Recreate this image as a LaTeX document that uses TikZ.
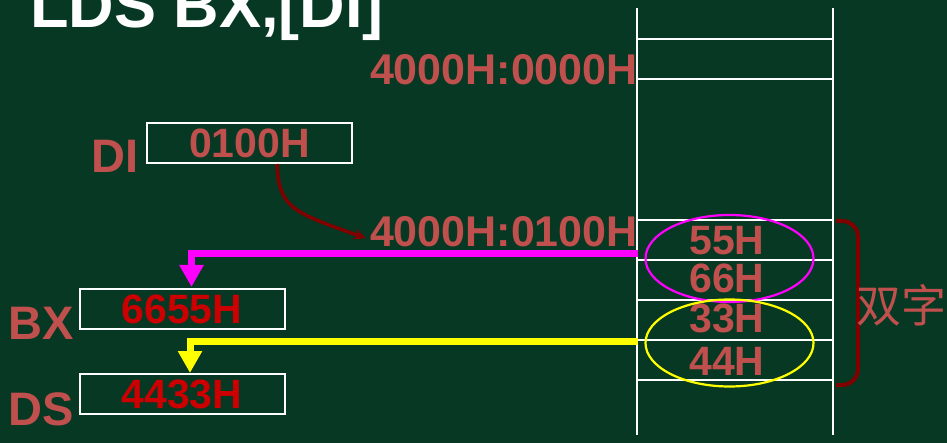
\documentclass[tikz,border=0pt]{standalone}
\usepackage{fontspec}
\setmainfont{Liberation Sans}
\newfontfamily\cjkfont{Noto Sans CJK SC}
\usetikzlibrary{shapes.geometric,arrows.meta,calc}
\definecolor{bgc}{RGB}{6,56,35}
\definecolor{lblred}{RGB}{192,80,77}
\definecolor{valred}{RGB}{204,0,0}
\definecolor{darkred}{RGB}{128,0,0}
\definecolor{magc}{RGB}{255,0,255}
\definecolor{yelc}{RGB}{255,255,0}
\begin{document}
\begin{tikzpicture}[x=1pt,y=-1pt,
  reglbl/.style={text=lblred, font=\fontsize{47}{47}\selectfont\bfseries, inner sep=0, anchor=base west},
  regbox/.style={draw=white, line width=2pt, minimum width=205pt, minimum height=40pt, inner sep=0, font=\fontsize{41}{41}\selectfont\bfseries},
  addr/.style={text=lblred, font=\fontsize{43}{43}\selectfont\bfseries, inner sep=0, anchor=base east},
  memval/.style={text=lblred, font=\fontsize{41}{41}\selectfont\bfseries, inner sep=0, anchor=base},
  memline/.style={white, line width=1.8pt},
  ring/.style={ellipse, line width=2.2pt, minimum width=168pt, minimum height=87pt, inner sep=0},
  moveline/.style={line width=7pt, -{Triangle[width=23pt,length=22pt]}}
]
\fill[bgc] (0,0) rectangle (947,443);
\useasboundingbox (0,0) rectangle (947,443);

% title (cut at the top edge, as in the original)
\node[text=white, font=\fontsize{63}{63}\selectfont\bfseries, inner sep=0, anchor=base west] (title) at (30,28) {LDS BX,[DI]};

% memory column
\draw[memline] (637,8) -- (637,435);
\draw[memline] (833,8) -- (833,435);
\foreach \yy in {39,79,220,260,300,340,380}
  \draw[memline] (637,\yy) -- (833,\yy);

\node[addr] (addr1) at (638,85) {4000H:0000H};
\node[addr] (addr2) at (638,247) {4000H:0100H};

\node[memval] (m55) at (727,255) {55H};
\node[memval] (m66) at (727,293) {66H};
\node[memval] (m33) at (727,333) {33H};
\node[memval] (m44) at (727,375) {44H};

\node[ring, draw=magc] (ringA) at (729.5,258.5) {};
\node[ring, draw=yelc] (ringB) at (729.5,343) {};

% brace
\draw[darkred, line width=4pt, rounded corners=16pt] (836,221) -| (858,303) |- (836,385);
\node[text=lblred, font=\cjkfont\fontsize{45}{45}\selectfont, inner sep=0, anchor=west] (dz) at (856,305) {双字};

% registers
\node[reglbl] (dilbl) at (91,173) {DI};
\node[regbox, text=lblred] (dibox) at (249.5,143) {0100H};
\node[reglbl] (bxlbl) at (8,340) {BX};
\node[regbox, text=valred] (bxbox) at (182,309) {6655H};
\node[reglbl] (dslbl) at (8,425) {DS};
\node[regbox, text=valred] (dsbox) at (182,394) {4433H};

% DI -> address arrow
\draw[darkred, line width=3.5pt, -{Stealth[length=12pt,width=11pt]}]
  ([xshift=27.5pt]dibox.south) .. controls (279,208) and (292,212) .. ([xshift=-4pt,yshift=-6pt]addr2.west);

% data moves
\coordinate (mstart) at (638,253.5);
\coordinate (ystart) at (638,341);
\draw[magc, moveline] (mstart) -| ([xshift=9.5pt,yshift=1pt]bxbox.north);
\draw[yelc, moveline] (ystart) -| ([xshift=8pt]dsbox.north);
\end{tikzpicture}
\end{document}
